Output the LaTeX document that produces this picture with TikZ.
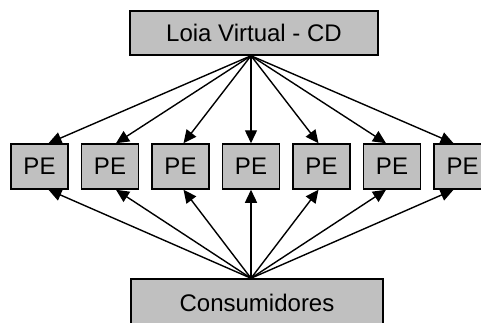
\documentclass[tikz,border=0pt]{standalone}
\usepackage{fontspec}
\setmainfont{Liberation Sans}
\usepackage{tikz}
\usetikzlibrary{arrows.meta}
\definecolor{boxgray}{HTML}{C0C0C0}

\begin{document}
\begin{tikzpicture}[x=1pt, y=-1pt, >={Triangle[length=13pt,width=12pt]},
    font=\fontsize{24}{28}\selectfont,
    box/.style={draw=black, fill=boxgray, line width=1.5pt, inner sep=0pt},
    pebox/.style={box, minimum width=57, minimum height=45},
    link/.style={->, line width=1.4pt}]
    % Frame
    \clip (0,0) rectangle (481,322);

    % Hubs
    \node[box, minimum width=248, minimum height=44] (loja) at (254,33) {Loia Virtual - CD};
    \node[box, minimum width=252, minimum height=48] (cons) at (257,303) {Consumidores};
    \coordinate (hubT) at ([xshift=-3]loja.south);
    \coordinate (hubB) at ([xshift=-6]cons.north);

    % Points of sale
    \node[pebox] (pe1) at (39.5,166.5) {PE};
    \node[pebox] (pe2) at (110,166.5) {PE};
    \node[pebox] (pe3) at (180.5,166.5) {PE};
    \node[pebox] (pe4) at (251,166.5) {PE};
    \node[pebox] (pe5) at (321.5,166.5) {PE};
    \node[pebox] (pe6) at (392,166.5) {PE};
    \node[pebox] (pe7) at (462.5,166.5) {PE};

    % From the store
    \draw[link] (hubT) -- ([xshift=9]pe1.north);
    \draw[link] (hubT) -- ([xshift=6]pe2.north);
    \draw[link] (hubT) -- ([xshift=3]pe3.north);
    \draw[link] (hubT) -- (pe4.north);
    \draw[link] (hubT) -- ([xshift=-3]pe5.north);
    \draw[link] (hubT) -- ([xshift=-6]pe6.north);
    \draw[link] (hubT) -- ([xshift=-9]pe7.north);

    % From the consumers
    \draw[link] (hubB) -- ([xshift=9]pe1.south);
    \draw[link] (hubB) -- ([xshift=6]pe2.south);
    \draw[link] (hubB) -- ([xshift=3]pe3.south);
    \draw[link] (hubB) -- (pe4.south);
    \draw[link] (hubB) -- ([xshift=-3]pe5.south);
    \draw[link] (hubB) -- ([xshift=-6]pe6.south);
    \draw[link] (hubB) -- ([xshift=-9]pe7.south);
\end{tikzpicture}
\end{document}
